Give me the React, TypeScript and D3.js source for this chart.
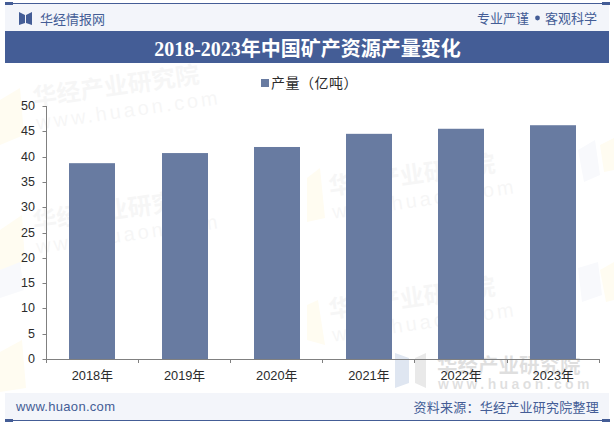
import React from "react";
import * as d3 from "d3";

const years = ["2018年", "2019年", "2020年", "2021年", "2022年", "2023年"];
const output = [38.7, 40.7, 41.9, 44.5, 45.5, 46.2];
const yTicks = [0, 5, 10, 15, 20, 25, 30, 35, 40, 45, 50];
const watermarks = [
  { x: 34, y: 106, a: -8 },
  { x: 34, y: 230, a: -8 },
  { x: 330, y: 195, a: -8 },
  { x: 330, y: 318, a: -8 },
];
const paleYellow = [
  "0,100 20,88 24,135 0,145",
  "0,230 22,215 25,262 0,270",
  "0,352 22,340 26,388 0,392",
  "307,178 320,168 325,218 307,222",
  "307,305 318,300 325,345 307,340",
  "600,145 614,138 614,170 604,172",
  "600,270 614,262 614,300 606,302",
];
const paleBlue = [
  "578,150 595,140 600,175 584,182",
  "578,268 598,262 602,295 582,302",
  "0,270 20,262 24,290 0,298",
];

const W = 614, H = 424;
const M = { l: 46.3, r: 599.3, t: 106, b: 359 };
const SANS = "'Liberation Sans', 'Noto Sans CJK SC', sans-serif";
const CJK = "'Noto Sans CJK SC', sans-serif";
const BLUE = "#445d96";
const BAR = "#687ba1";
const TEXT = "#2b2b2b";

export default function App() {
  const x = d3.scaleBand<string>().domain(years).range([M.l, M.r]).padding(0);
  const y = d3.scaleLinear().domain([0, 50]).range([M.b, M.t]);
  const barW = Math.round(x.bandwidth() * 0.5);
  const edges = d3.range(years.length + 1).map((i) => Math.floor(M.l + i * x.step()) + 0.5);
  return (
    <svg width={W} height={H} viewBox={`0 0 ${W} ${H}`} style={{ position: "fixed", left: 0, top: 0, background: "#fff" }}>
      {paleYellow.map((p) => <polygon key={p} points={p} fill="#fffcf1" />)}
      {paleBlue.map((p) => <polygon key={p} points={p} fill="#f8f9fc" />)}
      {watermarks.map((w, i) => (
        <g key={i} transform={`translate(${w.x},${w.y}) rotate(${w.a})`} fill="#000" opacity={0.03}>
          <text fontFamily={CJK} fontWeight={700} fontSize={24}>华经产业研究院</text>
          <text y={24} fontFamily={SANS} fontSize={20} letterSpacing={3}>www.huaon.com</text>
        </g>
      ))}
      <polygon points="395,353 409,358 409,383 395,388" fill="#dfe6f1" />
      <polygon points="415,358 426,353 426,388 415,383" fill="#e9e9e9" />
      <g fontWeight={700} fill="#000" opacity={0.12}>
        <text x={437} y={373} fontFamily={CJK} fontSize={20.5}>华经产业研究院</text>
        <text x={438} y={389} fontFamily={SANS} fontSize={14} letterSpacing={3.4}>www.huaon.com</text>
      </g>

      <rect x={5} y={4} width={604} height={27} fill="#f3f5fa" />
      <rect x={5} y={31} width={604} height={32} fill={BLUE} />
      <rect x={5} y={3} width={604} height={1} fill={BLUE} />
      <rect x={5} y={2} width={8} height={3} fill={BLUE} />
      <rect x={602} y={2} width={8} height={3} fill={BLUE} />
      <polygon points="19,12 25,15 25,23 19,25" fill={BLUE} />
      <polygon points="26,15 32,12 32,25 26,23" fill={BLUE} />
      <text x={40} y={23.5} fontFamily={CJK} fontSize={13} fill={BLUE}>华经情报网</text>
      <text x={477} y={22.5} fontFamily={CJK} fontSize={13} fill={BLUE}>专业严谨</text>
      <circle cx={537.5} cy={18} r={2.4} fill={BLUE} />
      <text x={545} y={22.5} fontFamily={CJK} fontSize={13} fill={BLUE}>客观科学</text>
      <text x={307.5} y={56} textAnchor="middle" fontFamily={"'Liberation Serif', 'Noto Sans CJK SC', serif"} fontWeight={700} fontSize={20} fill="#fff">2018-2023年中国矿产资源产量变化</text>

      <rect x={261} y={79} width={8} height={8} fill={BAR} />
      <text x={271} y={88} fontFamily={CJK} fontSize={14} letterSpacing={0.5} fill={TEXT}>产量（亿吨）</text>

      {years.map((c, i) => (
        <rect key={c} x={Math.round(x(c)! + (x.bandwidth() - barW) / 2)} y={y(output[i])} width={barW} height={y(0) - y(output[i])} fill={BAR} />
      ))}

      <g stroke="#808080" strokeWidth={1} fill="none">
        <line x1={46.5} x2={46.5} y1={M.t} y2={M.b} />
        <line x1={46} x2={M.r + 0.7} y1={M.b + 0.5} y2={M.b + 0.5} />
        {yTicks.map((t) => (
          <line key={t} x1={42.5} x2={46.5} y1={Math.round(y(t)) + 0.5} y2={Math.round(y(t)) + 0.5} />
        ))}
        {edges.map((e) => (
          <line key={e} x1={e} x2={e} y1={M.b} y2={M.b + 4} />
        ))}
      </g>
      <g fontFamily={SANS} fontSize={12.5} fill={TEXT}>
        {yTicks.map((t) => (
          <text key={t} x={35} y={y(t) + 4} textAnchor="end">{t}</text>
        ))}
      </g>
      <g fontFamily={SANS} fontSize={12.8} fill={TEXT}>
        {years.map((c) => (
          <text key={c} x={x(c)! + x.bandwidth() / 2} y={380} textAnchor="middle">{c}</text>
        ))}
      </g>

      <rect x={5} y={393} width={604} height={27} fill="#f3f5fa" />
      <rect x={5} y={420} width={604} height={1} fill={BLUE} />
      <rect x={5} y={419} width={8} height={3} fill={BLUE} />
      <rect x={602} y={419} width={8} height={3} fill={BLUE} />
      <text x={16} y={411} fontFamily={SANS} fontSize={13} letterSpacing={0.3} fill={BLUE}>www.huaon.com</text>
      <text x={599} y={412} textAnchor="end" fontFamily={CJK} fontSize={13} letterSpacing={0.25} fill={BLUE}>资料来源：华经产业研究院整理</text>
    </svg>
  );
}
